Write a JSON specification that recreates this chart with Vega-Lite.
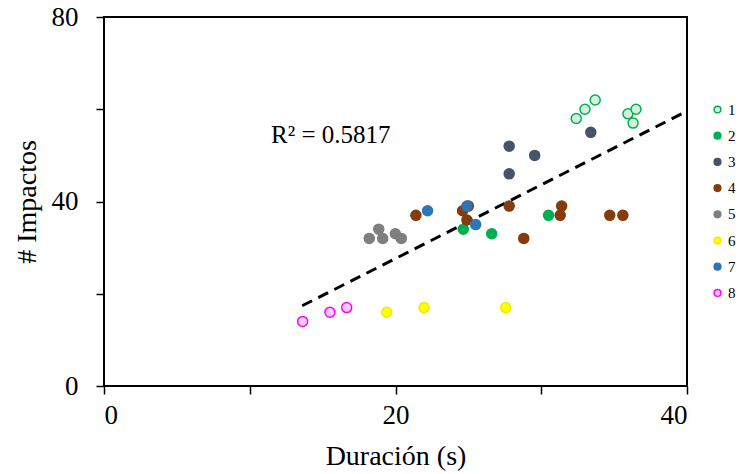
{
  "$schema": "https://vega.github.io/schema/vega-lite/v6.json",
  "autosize": "none",
  "width": 583,
  "height": 369,
  "padding": {"left": 104, "top": 17, "right": 53, "bottom": 88},
  "background": "white",
  "config": {
    "view": {"stroke": "black", "strokeWidth": 2},
    "font": "Liberation Serif",
    "axis": {"grid": false, "domain": false, "labelFont": "Liberation Serif", "titleFont": "Liberation Serif", "labelColor": "black", "titleColor": "black", "tickColor": "black", "tickWidth": 1.5, "tickSize": 8, "labelFontSize": 27, "titleFontSize": 28, "titleFontWeight": "normal"}
  },
  "datasets": {
    "pts": [
      {"g": "1", "x": 32.4, "y": 58},
      {"g": "1", "x": 33.0, "y": 60},
      {"g": "1", "x": 33.7, "y": 62},
      {"g": "1", "x": 35.95, "y": 59},
      {"g": "1", "x": 36.5, "y": 60},
      {"g": "1", "x": 36.3, "y": 57},
      {"g": "2", "x": 24.65, "y": 34},
      {"g": "2", "x": 26.6, "y": 33},
      {"g": "2", "x": 30.5, "y": 37},
      {"g": "3", "x": 27.8, "y": 52},
      {"g": "3", "x": 29.55, "y": 50},
      {"g": "3", "x": 27.8, "y": 46},
      {"g": "3", "x": 33.4, "y": 55},
      {"g": "4", "x": 21.4, "y": 37},
      {"g": "4", "x": 24.6, "y": 38},
      {"g": "4", "x": 25.0, "y": 39},
      {"g": "4", "x": 24.9, "y": 36},
      {"g": "4", "x": 27.8, "y": 39},
      {"g": "4", "x": 28.8, "y": 32},
      {"g": "4", "x": 31.4, "y": 39},
      {"g": "4", "x": 31.3, "y": 37},
      {"g": "4", "x": 34.7, "y": 37},
      {"g": "4", "x": 35.6, "y": 37},
      {"g": "5", "x": 18.2, "y": 32},
      {"g": "5", "x": 18.85, "y": 34},
      {"g": "5", "x": 19.12, "y": 32},
      {"g": "5", "x": 19.99, "y": 33},
      {"g": "5", "x": 20.4, "y": 32},
      {"g": "6", "x": 19.4, "y": 16},
      {"g": "6", "x": 21.96, "y": 17},
      {"g": "6", "x": 27.56, "y": 17},
      {"g": "7", "x": 22.2, "y": 38},
      {"g": "7", "x": 24.9, "y": 39},
      {"g": "7", "x": 25.5, "y": 35},
      {"g": "8", "x": 13.63, "y": 14},
      {"g": "8", "x": 15.5, "y": 16},
      {"g": "8", "x": 16.65, "y": 17}
    ],
    "trend": [
      {"x": 13.6, "y": 17.4},
      {"x": 40, "y": 59.6}
    ],
    "note": [
      {"x": 11.46, "y": 52.6, "t": "R² = 0.5817"}
    ]
  },
  "layer": [
    {
      "data": {"name": "trend"},
      "mark": {"type": "line", "color": "black", "strokeWidth": 3, "strokeDash": [11, 7], "clip": true},
      "encoding": {
        "x": {"field": "x", "type": "quantitative", "scale": {"domain": [0, 40]}, "axis": {"values": [0, 10, 20, 30, 40], "labelExpr": "datum.value % 20 === 0 ? datum.label : ''", "title": "Duración (s)", "titlePadding": 14, "labelPadding": 8}},
        "y": {"field": "y", "type": "quantitative", "scale": {"domain": [0, 80]}, "axis": {"values": [0, 20, 40, 60, 80], "labelExpr": "datum.value % 40 === 0 ? datum.label : ''", "title": "# Impactos", "titlePadding": 10, "labelPadding": 18}}
      }
    },
    {
      "data": {"name": "pts"},
      "mark": {"type": "point", "shape": "circle", "size": 100, "strokeWidth": 1.5, "opacity": 1, "filled": false},
      "encoding": {
        "x": {"field": "x", "type": "quantitative"},
        "y": {"field": "y", "type": "quantitative"},
        "fill": {"field": "g", "type": "nominal", "scale": {"domain": ["1","2","3","4","5","6","7","8"], "range": ["#d4f0dc", "#00b050", "#44546a", "#843c0c", "#7f7f7f", "#ffff00", "#2e75b6", "#ffccff"]},
          "legend": {"orient": "none", "legendX": 606, "legendY": 85, "title": null, "labelFont": "Liberation Serif", "labelFontSize": 15, "labelColor": "black", "symbolSize": 45, "symbolStrokeWidth": 1.5, "rowPadding": 10.2, "labelOffset": 3}},
        "stroke": {"field": "g", "type": "nominal", "scale": {"domain": ["1","2","3","4","5","6","7","8"], "range": ["#00b050", "#00b050", "#44546a", "#843c0c", "#7f7f7f", "#f0e800", "#2e75b6", "#ff00ff"]}, "legend": null}
      }
    },
    {
      "data": {"name": "note"},
      "mark": {"type": "text", "align": "left", "baseline": "alphabetic", "fontSize": 25, "font": "Liberation Serif", "color": "black"},
      "encoding": {
        "x": {"field": "x", "type": "quantitative"},
        "y": {"field": "y", "type": "quantitative"},
        "text": {"field": "t"}
      }
    }
  ]
}
